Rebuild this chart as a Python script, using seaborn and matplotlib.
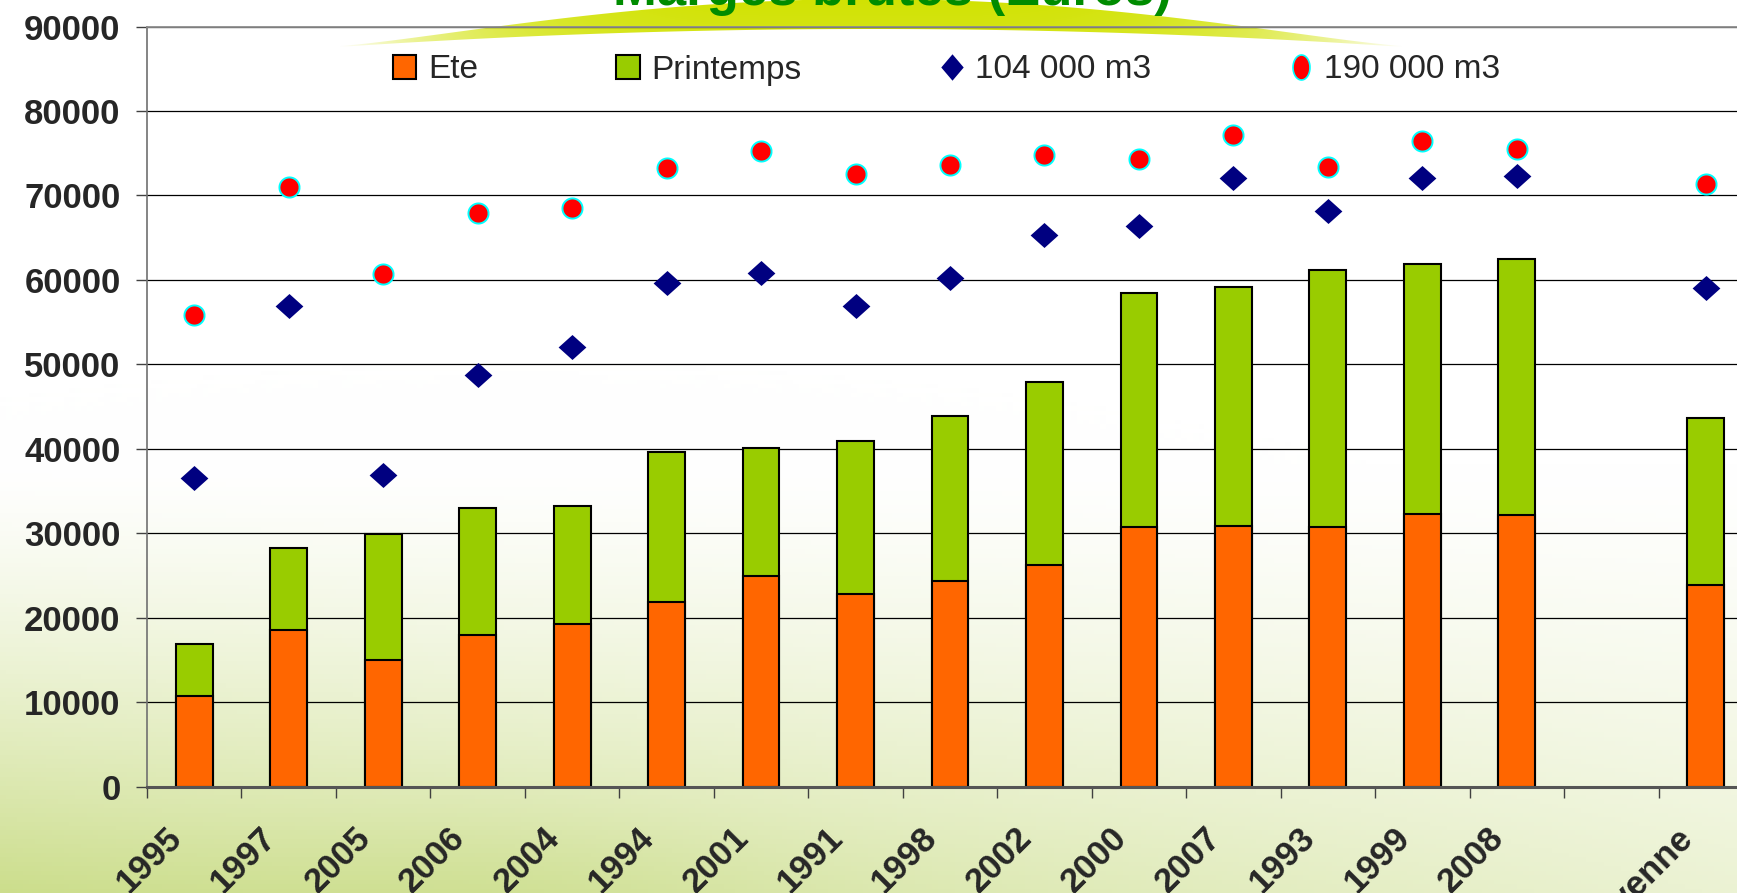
"""
Marges brutes (Euros) - stacked bars Ete / Printemps + markers for two volumes.
Figure saved silently to out.png.
"""

import numpy as np
import pandas as pd
import matplotlib
matplotlib.use("Agg")   # no display
import matplotlib.pyplot as plt
import seaborn as sns
from matplotlib.patches import Patch, Polygon
from matplotlib.lines import Line2D
from matplotlib.transforms import ScaledTranslation

# ---- data ----
annees    = ["1995", "1997", "2005", "2006", "2004", "1994", "2001", "1991",
             "1998", "2002", "2000", "2007", "1993", "1999", "2008", "Moyenne"]
ete       = [10700, 18500, 15000, 17900, 19300, 21800, 24900, 22800,
             24300, 26200, 30700, 30900, 30700, 32300, 32100, 23900]
printemps = [6200, 9700, 14900, 15100, 13900, 17800, 15200, 18100,
             19600, 21700, 27700, 28300, 30500, 29600, 30400, 19800]
m3_104000 = [36500, 56900, 36900, 48700, 52000, 59600, 60800, 56900,
             60200, 65300, 66400, 72100, 68200, 72100, 72300, 59000]
m3_190000 = [55900, 71000, 60700, 67900, 68500, 73200, 75300, 72600,
             73600, 74800, 74300, 77200, 73400, 76500, 75500, 71400]
ordre     = annees[:-1] + [""] + ["Moyenne"]   # blank slot before the mean
y_ticks   = [0, 10000, 20000, 30000, 40000, 50000, 60000, 70000, 80000, 90000]

ORANGE = "#FF6600"
VERT   = "#99CC00"
NAVY   = "#000080"
ROUGE  = "#FF0000"
CYAN   = "#00FFFF"

W, H = 1737, 893

df = pd.DataFrame({"annee": annees, "ete": ete, "printemps": printemps,
                   "m104": m3_104000, "m190": m3_190000})
df["total"] = df["ete"] + df["printemps"]

sns.set_style("ticks")
plt.rcParams["font.family"] = ["Liberation Sans", "DejaVu Sans"]

fig = plt.figure(figsize=(W / 100, H / 100), dpi=100)

# background: white on top, blurred grass green towards the bottom left
bg = fig.add_axes([0, 0, 1, 1], zorder=0)
u = np.linspace(0, 1, 300)[None, :]
v = np.linspace(0, 1, 200)[:, None]
a = np.clip((v - 0.52) / 0.48, 0, 1) ** 1.3 * (1 - 0.62 * u)
a += 0.10 * np.exp(-((u - 0.30) ** 2) / 0.02 - ((v - 1.0) ** 2) / 0.01)
a = np.clip(a, 0, 1)[..., None]
green = np.array([0.80, 0.87, 0.55])
img = (1 - a) * np.ones(3) + a * green
bg.imshow(img, aspect="auto", extent=[0, W, H, 0], origin="upper")

# yellow-green brush stroke behind the title
xs = np.linspace(338, 1404, 300)
tt = (xs - 871) / 533
low = 47 - 18 * (1 - tt ** 2)
up = 46 - 47 * np.clip(1 - tt ** 2, 0, 1) ** 1.3
poly = Polygon(np.vstack([np.column_stack([xs, low]),
                          np.column_stack([xs[::-1], up[::-1]])]),
               closed=True, facecolor="none", edgecolor="none")
bg.add_patch(poly)
gu = np.linspace(-1, 1, 400)[None, :]
gv = np.linspace(0, 1, 60)[:, None]
alpha = np.clip(1 - np.abs(gu) ** 4, 0, 1) * (0.9 + 0.1 * (1 - gv))
swoosh = np.zeros((60, 400, 4))
swoosh[..., 0] = 0.82
swoosh[..., 1] = 0.89
swoosh[..., 2] = 0.0
swoosh[..., 3] = alpha
im = bg.imshow(swoosh, extent=[338, 1404, 48, -4], aspect="auto",
               origin="upper", interpolation="bilinear")
im.set_clip_path(poly)
bg.set_xlim(0, W)
bg.set_ylim(H, 0)
bg.axis("off")

ax = fig.add_axes([147 / W, (H - 786.5) / H, (1753 - 147) / W, (786.5 - 26.6) / H],
                  zorder=1)
ax.set_facecolor("none")

# stacked bars: total first (green), then Ete on top of it (orange)
sns.barplot(data=df, x="annee", y="total", order=ordre, color=VERT,
            saturation=1, width=0.39, edgecolor="black", linewidth=1.5,
            errorbar=None, ax=ax)
sns.barplot(data=df, x="annee", y="ete", order=ordre, color=ORANGE,
            saturation=1, width=0.39, edgecolor="black", linewidth=1.5,
            errorbar=None, ax=ax)

diamant = np.array([[-1, 0], [0, 0.9], [1, 0], [0, -0.9], [-1, 0]])
t = np.linspace(0, 2 * np.pi, 41)
rond = np.column_stack([np.cos(t), np.sin(t)])

sns.stripplot(data=df, x="annee", y="m104", order=ordre, jitter=False,
              color=NAVY, marker=diamant, size=20, linewidth=0, ax=ax,
              zorder=4)
sns.stripplot(data=df, x="annee", y="m190", order=ordre, jitter=False,
              color=ROUGE, marker=rond, size=14.5, linewidth=1.4,
              edgecolor=CYAN, ax=ax, zorder=5)

ax.set_ylim(0, 90000)
ax.set_xlim(-0.5, len(ordre) - 0.5)
ax.set_xlabel("")
ax.set_ylabel("")

ax.set_yticks(y_ticks)
ax.set_yticklabels([str(v) for v in y_ticks], fontsize=25, fontweight="bold")
ax.tick_params(axis="y", direction="out", length=8, width=1,
               color="#404040", pad=11)
ax.yaxis.grid(True, color="black", linewidth=0.9)
ax.xaxis.grid(False)
ax.set_axisbelow(True)

ax.set_xticks(range(len(ordre)))
ax.set_xticklabels(ordre, rotation=45, ha="right", va="top",
                   fontsize=25, fontweight="bold")
ax.tick_params(axis="x", which="major", length=0, pad=25)
ax.set_xticks(np.arange(-0.5, len(ordre), 1), minor=True)
ax.tick_params(axis="x", which="minor", direction="out", length=8,
               width=1, color="#404040")
shift = ScaledTranslation(-0.06, 0, fig.dpi_scale_trans)
for lab in ax.get_xticklabels():
    lab.set_transform(lab.get_transform() + shift)

for side in ["top", "right"]:
    ax.spines[side].set_color("#8c8c8c")
    ax.spines[side].set_linewidth(1.3)
ax.spines["left"].set_color("#707070")
ax.spines["left"].set_linewidth(1.2)
ax.spines["bottom"].set_color("#555555")
ax.spines["bottom"].set_linewidth(2.2)

ovale = np.column_stack([0.68 * np.cos(t), np.sin(t)])
losange = np.array([[-0.85, 0], [0, 1], [0.85, 0], [0, -1], [-0.85, 0]])
handles = [
    Patch(facecolor=ORANGE, edgecolor="black", linewidth=1.5, label="Ete"),
    Patch(facecolor=VERT, edgecolor="black", linewidth=1.5, label="Printemps"),
    Line2D([], [], ls="none", marker=losange, markersize=19, color=NAVY,
           markeredgewidth=0, label="104 000 m3"),
    Line2D([], [], ls="none", marker=ovale, markersize=18,
           markerfacecolor=ROUGE, markeredgecolor=CYAN, markeredgewidth=1.2,
           label="190 000 m3"),
]
ax.legend(handles=handles, ncol=4, loc="center left",
          bbox_to_anchor=(393 / W, 1 - 70 / H), bbox_transform=fig.transFigure,
          frameon=False, borderpad=0, borderaxespad=0, handlelength=0.7,
          handleheight=0.7, handletextpad=0.35, columnspacing=4.15,
          prop={"size": 24})

# title, cut by the top of the picture
fig.text(892 / W, 1 - 5 / H, "Marges brutes (Euros)", ha="center",
         va="baseline", fontsize=38, fontweight="bold", color="#008C00",
         zorder=6)

fig.savefig("out.png", dpi=100)
plt.close(fig)
